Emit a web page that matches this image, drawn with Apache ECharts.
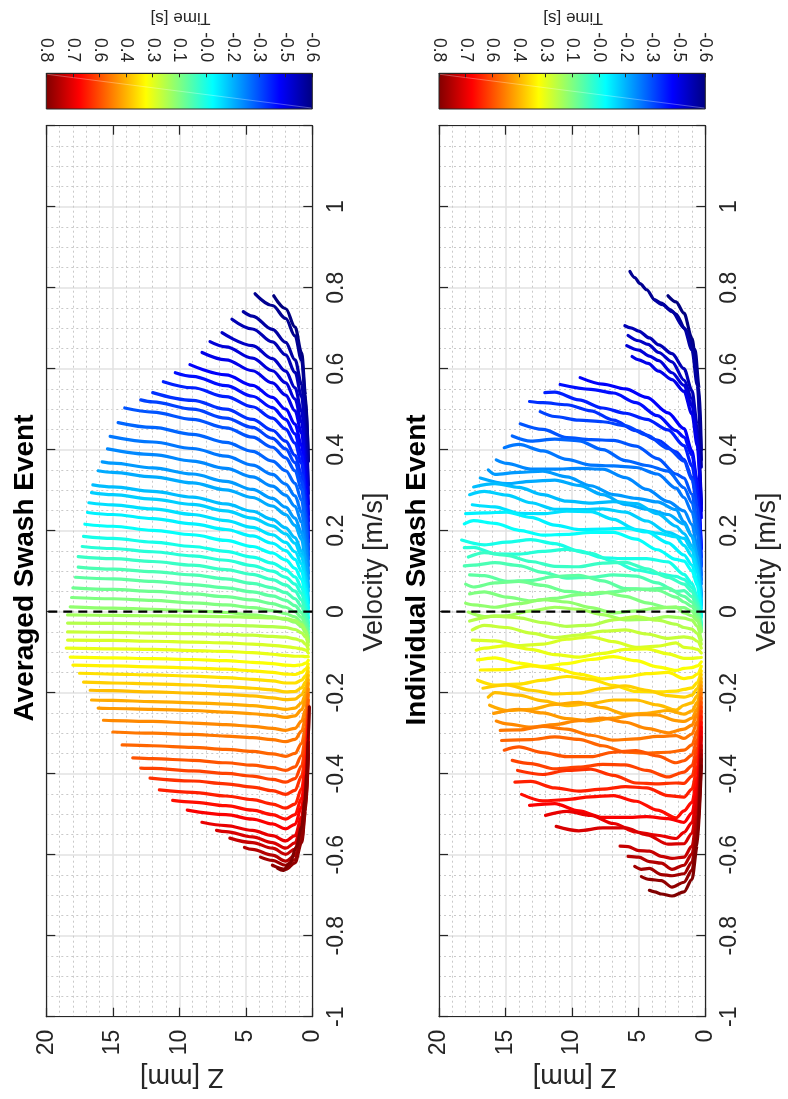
<!DOCTYPE html>
<html>
<head>
<meta charset="utf-8">
<script src="https://cdn.jsdelivr.net/npm/echarts@6/dist/echarts.min.js"></script>
<style>
  html, body { margin: 0; padding: 0; background: #ffffff; }
  #chart { width: 788px; height: 1099px; }
</style>
</head>
<body>
<div id="chart"></div>
<script>
// ---------------------------------------------------------------------------
// Velocity profiles u(z) during a swash event, coloured by time.
// Each profile is a list of [Z (mm), velocity (m/s)] points.
// ---------------------------------------------------------------------------

const TIME_MIN = -0.6;
const TIME_MAX = 0.8;

// colour-bar tick labels, left to right
const CB_LABELS = ['0.8', '0.7', '0.6', '0.4', '0.3', '0.1', '-0.0', '-0.2', '-0.3', '-0.5', '-0.6'];

// --- averaged event -------------------------------------------------------
const AVG_TIMES = [
  -0.600, -0.576, -0.552, -0.528, -0.503, -0.479, -0.455, -0.431, -0.407, -0.383,
  -0.359, -0.334, -0.310, -0.286, -0.262, -0.238, -0.214, -0.190, -0.166, -0.141,
  -0.117, -0.093, -0.069, -0.045, -0.021, 0.003, 0.028, 0.052, 0.076, 0.100,
  0.124, 0.148, 0.172, 0.197, 0.221, 0.245, 0.269, 0.293, 0.317, 0.341,
  0.366, 0.390, 0.414, 0.438, 0.462, 0.486, 0.510, 0.534, 0.559, 0.583,
  0.607, 0.631, 0.655, 0.679, 0.703, 0.728, 0.752, 0.776, 0.800
];

const AVG_PROFILES = [
  [[0.3,0.372],[0.5,0.534],[0.8,0.639],[1.3,0.703],[2,0.748],[2.9,0.780]],
  [[0.3,0.372],[0.5,0.523],[0.8,0.620],[1.3,0.681],[2,0.724],[3,0.756],[4.3,0.785]],
  [[0.3,0.313],[0.5,0.464],[0.8,0.561],[1.3,0.622],[2,0.665],[3,0.697],[4.5,0.730],[5.19,0.741]],
  [[0.3,0.292],[0.5,0.437],[0.8,0.531],[1.3,0.591],[2,0.634],[3,0.666],[4.5,0.698],[6.04,0.722]],
  [[0.3,0.266],[0.5,0.405],[0.8,0.495],[1.3,0.553],[2,0.594],[3,0.625],[4.5,0.657],[6.79,0.689]],
  [[0.3,0.240],[0.5,0.378],[0.8,0.468],[1.3,0.525],[2,0.565],[3,0.595],[4.5,0.626],[6.5,0.654],[7.69,0.667]],
  [[0.3,0.224],[0.5,0.355],[0.8,0.441],[1.3,0.496],[2,0.535],[3,0.565],[4.5,0.595],[6.5,0.622],[8.29,0.640]],
  [[0.3,0.204],[0.5,0.328],[0.8,0.410],[1.3,0.463],[2,0.500],[3,0.529],[4.5,0.559],[6.5,0.585],[9.2,0.610]],
  [[0.3,0.182],[0.5,0.306],[0.8,0.387],[1.3,0.439],[2,0.475],[3,0.504],[4.5,0.532],[6.5,0.558],[9,0.581],[10.3,0.590]],
  [[0.3,0.172],[0.5,0.289],[0.8,0.366],[1.3,0.416],[2,0.451],[3,0.478],[4.5,0.506],[6.5,0.531],[9,0.553],[11.2,0.568]],
  [[0.3,0.154],[0.5,0.265],[0.8,0.339],[1.3,0.386],[2,0.421],[3,0.448],[4.5,0.475],[6.5,0.500],[9,0.522],[12,0.541]],
  [[0.3,0.139],[0.5,0.249],[0.8,0.321],[1.3,0.368],[2,0.402],[3,0.428],[4.5,0.455],[6.5,0.478],[9,0.500],[12,0.518],[12.9,0.523]],
  [[0.3,0.130],[0.5,0.234],[0.8,0.302],[1.3,0.348],[2,0.380],[3,0.406],[4.5,0.431],[6.5,0.454],[9,0.475],[12,0.493],[14.1,0.503]],
  [[0.3,0.114],[0.5,0.211],[0.8,0.275],[1.3,0.317],[2,0.348],[3,0.372],[4.5,0.396],[6.5,0.418],[9,0.438],[12,0.455],[14.6,0.467]],
  [[0.3,0.095],[0.5,0.185],[0.8,0.245],[1.3,0.286],[2,0.315],[3,0.339],[4.5,0.362],[6.5,0.384],[9,0.403],[12,0.419],[15.2,0.433]],
  [[0.3,0.081],[0.5,0.165],[0.8,0.221],[1.3,0.260],[2,0.288],[3,0.310],[4.5,0.333],[6.5,0.354],[9,0.372],[12,0.388],[15.4,0.402]],
  [[0.3,0.061],[0.5,0.141],[0.8,0.195],[1.3,0.231],[2,0.258],[3,0.280],[4.5,0.302],[6.5,0.322],[9,0.340],[12,0.355],[15,0.367],[15.8,0.370]],
  [[0.3,0.051],[0.5,0.126],[0.8,0.178],[1.3,0.213],[2,0.240],[3,0.261],[4.5,0.282],[6.5,0.301],[9,0.318],[12,0.333],[15,0.344],[16.1,0.348]],
  [[0.3,0.028],[0.5,0.100],[0.8,0.149],[1.3,0.183],[2,0.207],[3,0.228],[4.5,0.248],[6.5,0.266],[9,0.283],[12,0.297],[15,0.308],[16.5,0.313]],
  [[0.3,0.021],[0.5,0.090],[0.8,0.136],[1.3,0.169],[2,0.192],[3,0.212],[4.5,0.231],[6.5,0.249],[9,0.265],[12,0.278],[15,0.289],[16.6,0.294]],
  [[0.3,0.009],[0.5,0.073],[0.8,0.118],[1.3,0.148],[2,0.171],[3,0.190],[4.5,0.208],[6.5,0.225],[9,0.240],[12,0.254],[15,0.264],[16.8,0.269]],
  [[0.3,-0.002],[0.5,0.058],[0.8,0.100],[1.3,0.129],[2,0.151],[3,0.169],[4.5,0.187],[6.5,0.203],[9,0.217],[12,0.230],[15,0.240],[16.9,0.245]],
  [[0.3,-0.015],[0.5,0.042],[0.8,0.080],[1.3,0.107],[2,0.128],[3,0.145],[4.5,0.161],[6.5,0.176],[9,0.190],[12,0.201],[15,0.211],[17.1,0.216]],
  [[0.3,-0.028],[0.5,0.025],[0.8,0.060],[1.3,0.086],[2,0.104],[3,0.120],[4.5,0.135],[6.5,0.149],[9,0.161],[12,0.172],[15,0.181],[17.2,0.186]],
  [[0.3,-0.036],[0.5,0.012],[0.8,0.045],[1.3,0.068],[2,0.085],[3,0.100],[4.5,0.114],[6.5,0.127],[9,0.138],[12,0.148],[15,0.156],[17.3,0.161]],
  [[0.3,-0.044],[0.5,-0.001],[0.8,0.029],[1.3,0.051],[2,0.066],[3,0.079],[4.5,0.092],[6.5,0.104],[9,0.115],[12,0.124],[15,0.131],[17.6,0.136]],
  [[0.3,-0.053],[0.5,-0.013],[0.8,0.013],[1.3,0.032],[2,0.047],[3,0.059],[4.5,0.070],[6.5,0.081],[9,0.091],[12,0.099],[15,0.105],[17.6,0.110]],
  [[0.3,-0.061],[0.5,-0.026],[0.8,-0.002],[1.3,0.015],[2,0.028],[3,0.039],[4.5,0.049],[6.5,0.059],[9,0.067],[12,0.075],[15,0.081],[17.8,0.085]],
  [[0.3,-0.066],[0.5,-0.036],[0.8,-0.014],[1.3,0.000],[2,0.011],[3,0.020],[4.5,0.029],[6.5,0.037],[9,0.044],[12,0.050],[15,0.055],[18,0.059]],
  [[0.3,-0.069],[0.5,-0.044],[0.8,-0.026],[1.3,-0.013],[2,-0.005],[3,0.003],[4.5,0.010],[6.5,0.017],[9,0.022],[12,0.028],[15,0.032],[18.1,0.035]],
  [[0.3,-0.075],[0.5,-0.052],[0.8,-0.037],[1.3,-0.026],[2,-0.019],[3,-0.013],[4.5,-0.008],[6.5,-0.002],[9,0.002],[12,0.006],[15,0.009],[18.2,0.012]],
  [[0.3,-0.074],[0.5,-0.047],[0.8,-0.032],[1.3,-0.022],[2,-0.017],[3,-0.015],[4.5,-0.014],[6.5,-0.012],[9,-0.011],[12,-0.010],[15,-0.009],[18.4,-0.008]],
  [[0.3,-0.083],[0.5,-0.063],[0.8,-0.052],[1.3,-0.044],[2,-0.039],[3,-0.037],[4.5,-0.035],[6.5,-0.033],[9,-0.032],[12,-0.030],[15,-0.029],[18.4,-0.028]],
  [[0.3,-0.093],[0.5,-0.080],[0.8,-0.072],[1.3,-0.067],[2,-0.063],[3,-0.061],[4.5,-0.058],[6.5,-0.056],[9,-0.054],[12,-0.053],[15,-0.051],[18.4,-0.050]],
  [[0.3,-0.102],[0.5,-0.095],[0.8,-0.092],[1.3,-0.089],[2,-0.086],[3,-0.083],[4.5,-0.080],[6.5,-0.077],[9,-0.075],[12,-0.073],[15,-0.071],[18.4,-0.070]],
  [[0.3,-0.111],[0.5,-0.111],[0.8,-0.110],[1.3,-0.110],[2,-0.108],[3,-0.105],[4.5,-0.101],[6.5,-0.098],[9,-0.096],[12,-0.093],[15,-0.092],[18.5,-0.090]],
  [[0.3,-0.120],[0.5,-0.127],[0.8,-0.131],[1.3,-0.133],[2,-0.132],[3,-0.128],[4.5,-0.125],[6.5,-0.121],[9,-0.118],[12,-0.116],[15,-0.114],[18.2,-0.112]],
  [[0.3,-0.129],[0.5,-0.142],[0.8,-0.150],[1.3,-0.155],[2,-0.154],[3,-0.150],[4.5,-0.146],[6.5,-0.142],[9,-0.139],[12,-0.136],[15,-0.134],[18.0,-0.132]],
  [[0.3,-0.138],[0.5,-0.158],[0.8,-0.169],[1.3,-0.176],[2,-0.176],[3,-0.171],[4.5,-0.167],[6.5,-0.163],[9,-0.159],[12,-0.156],[15,-0.154],[17.5,-0.152]],
  [[0.3,-0.148],[0.5,-0.173],[0.8,-0.188],[1.3,-0.197],[2,-0.198],[3,-0.193],[4.5,-0.189],[6.5,-0.185],[9,-0.181],[12,-0.178],[15,-0.176],[17.2,-0.174]],
  [[0.3,-0.157],[0.5,-0.188],[0.8,-0.205],[1.3,-0.216],[2,-0.217],[3,-0.213],[4.5,-0.208],[6.5,-0.204],[9,-0.201],[12,-0.198],[15,-0.195],[16.7,-0.194]],
  [[0.3,-0.168],[0.5,-0.204],[0.8,-0.225],[1.3,-0.238],[2,-0.241],[3,-0.237],[4.5,-0.232],[6.5,-0.228],[9,-0.225],[12,-0.222],[15,-0.219],[16.6,-0.218]],
  [[0.3,-0.177],[0.5,-0.219],[0.8,-0.242],[1.3,-0.257],[2,-0.261],[3,-0.256],[4.5,-0.252],[6.5,-0.248],[9,-0.244],[12,-0.241],[15,-0.239],[16.1,-0.238]],
  [[0.3,-0.191],[0.5,-0.241],[0.8,-0.270],[1.3,-0.288],[2,-0.293],[3,-0.288],[4.5,-0.283],[6.5,-0.279],[9,-0.275],[12,-0.271],[15,-0.269],[15.7,-0.268]],
  [[0.3,-0.204],[0.5,-0.262],[0.8,-0.295],[1.3,-0.315],[2,-0.321],[3,-0.316],[4.5,-0.311],[6.5,-0.307],[9,-0.303],[12,-0.300],[15.0,-0.297]],
  [[0.3,-0.218],[0.5,-0.287],[0.8,-0.325],[1.3,-0.350],[2,-0.357],[3,-0.351],[4.5,-0.345],[6.5,-0.340],[9,-0.335],[12,-0.331],[14.3,-0.329]],
  [[0.3,-0.232],[0.5,-0.311],[0.8,-0.355],[1.3,-0.383],[2,-0.392],[3,-0.385],[4.5,-0.379],[6.5,-0.373],[9,-0.367],[12,-0.363],[13.5,-0.361]],
  [[0.3,-0.244],[0.5,-0.332],[0.8,-0.381],[1.3,-0.412],[2,-0.421],[3,-0.414],[4.5,-0.406],[6.5,-0.399],[9,-0.393],[12,-0.387],[12.9,-0.386]],
  [[0.3,-0.255],[0.5,-0.352],[0.8,-0.406],[1.3,-0.441],[2,-0.451],[3,-0.442],[4.5,-0.433],[6.5,-0.425],[9,-0.418],[12.2,-0.411]],
  [[0.3,-0.268],[0.5,-0.376],[0.8,-0.437],[1.3,-0.475],[2,-0.485],[3,-0.475],[4.5,-0.464],[6.5,-0.455],[9,-0.446],[11.5,-0.440]],
  [[0.3,-0.280],[0.5,-0.395],[0.8,-0.460],[1.3,-0.501],[2,-0.512],[3,-0.501],[4.5,-0.490],[6.5,-0.479],[9,-0.470],[10.5,-0.466]],
  [[0.3,-0.291],[0.5,-0.413],[0.8,-0.482],[1.3,-0.525],[2,-0.536],[3,-0.524],[4.5,-0.512],[6.5,-0.501],[9.4,-0.490]],
  [[0.3,-0.304],[0.5,-0.434],[0.8,-0.507],[1.3,-0.553],[2,-0.566],[3,-0.553],[4.5,-0.540],[6.5,-0.528],[8.3,-0.520]],
  [[0.3,-0.313],[0.5,-0.447],[0.8,-0.523],[1.3,-0.571],[2,-0.584],[3,-0.570],[4.5,-0.556],[6.5,-0.543],[7.2,-0.540]],
  [[0.3,-0.322],[0.5,-0.460],[0.8,-0.537],[1.3,-0.586],[2,-0.599],[3,-0.584],[4.5,-0.570],[6.2,-0.559]],
  [[0.3,-0.332],[0.5,-0.473],[0.8,-0.552],[1.3,-0.602],[2,-0.616],[3,-0.601],[4.5,-0.587],[5.1,-0.582]],
  [[0.3,-0.343],[0.5,-0.483],[0.8,-0.562],[1.3,-0.612],[2,-0.626],[3,-0.614],[3.9,-0.606]],
  [[0.3,-0.352],[0.5,-0.492],[0.8,-0.570],[1.3,-0.620],[2,-0.636],[3.0,-0.626]],
  [[0.22,-0.235],[0.3,-0.317],[0.42,-0.400],[0.55,-0.466],[0.8,-0.532],[1.2,-0.581],[1.7,-0.622],[2.2,-0.639],[2.6,-0.634]]
];

// --- individual event -----------------------------------------------------
const IND_TIMES = [
  -0.600, -0.576, -0.552, -0.528, -0.503, -0.479, -0.455, -0.431, -0.407, -0.383,
  -0.359, -0.334, -0.310, -0.286, -0.262, -0.238, -0.214, -0.190, -0.166, -0.141,
  -0.117, -0.093, -0.069, -0.045, -0.021, 0.003, 0.028, 0.052, 0.076, 0.100,
  0.124, 0.148, 0.172, 0.197, 0.221, 0.245, 0.269, 0.293, 0.317, 0.341,
  0.366, 0.390, 0.414, 0.438, 0.462, 0.486, 0.510, 0.534, 0.559, 0.583,
  0.607, 0.631, 0.655, 0.679, 0.703, 0.728, 0.752, 0.776, 0.800
];

const IND_PROFILES = [
  [[0.3,0.375],[0.6,0.584],[1.0,0.675],[1.6,0.737],[2.2,0.765],[2.8,0.780]],
  [[0.3,0.400],[0.45,0.550],[0.77,0.647],[1.5,0.697],[2.2,0.735],[2.65,0.746],[3.3,0.762],[3.8,0.770],[4.4,0.795],[4.9,0.810],[5.3,0.825],[5.66,0.840]],
  [[0.3,0.357],[0.6,0.559],[1.0,0.646],[1.6,0.701],[2.5,0.741],[3.2,0.758],[3.8,0.770]],
  [[0.3,0.266],[0.6,0.461],[1.0,0.546],[1.6,0.600],[2.5,0.637],[3.5,0.659],[4.2,0.676],[5,0.693],[5.6,0.701],[6.04,0.706]],
  [[0.3,0.255],[0.6,0.443],[1.0,0.526],[1.6,0.572],[2.5,0.617],[3.5,0.640],[4.3,0.660],[5,0.669],[5.8,0.682]],
  [[0.3,0.249],[0.6,0.430],[1.0,0.509],[1.6,0.559],[2.5,0.590],[3.5,0.620],[4.2,0.631],[5,0.646],[5.9,0.657]],
  [[0.3,0.232],[0.6,0.410],[1.0,0.488],[1.6,0.544],[2.5,0.573],[3.5,0.594],[4.3,0.613],[5,0.622],[5.5,0.630]],
  [[0.3,0.155],[0.6,0.322],[1.0,0.397],[1.6,0.452],[2.8,0.491],[4.4,0.529],[6.0,0.550],[7.7,0.562],[9.4,0.578]],
  [[0.3,0.157],[0.6,0.316],[1.0,0.386],[1.6,0.431],[2.2,0.447],[3.6,0.484],[5.2,0.516],[6.9,0.540],[8.6,0.549],[10.9,0.561]],
  [[0.3,0.135],[0.6,0.290],[1.0,0.360],[1.6,0.410],[2.8,0.449],[4.4,0.475],[6.0,0.490],[7.7,0.503],[9.5,0.523],[11.3,0.542],[12.05,0.541]],
  [[0.3,0.112],[0.6,0.264],[1.0,0.332],[1.6,0.376],[2.2,0.395],[3.6,0.424],[5.2,0.447],[6.9,0.473],[8.6,0.496],[10.4,0.511],[12.2,0.516],[13.2,0.519]],
  [[0.3,0.118],[0.6,0.262],[1.0,0.326],[1.6,0.372],[2.8,0.403],[4.4,0.436],[6.0,0.459],[7.7,0.469],[9.5,0.473],[11.3,0.482],[12.4,0.494]],
  [[0.3,0.091],[0.6,0.228],[1.0,0.290],[1.6,0.330],[2.2,0.340],[3.6,0.378],[5.2,0.409],[6.9,0.423],[8.6,0.425],[10.4,0.430],[12.2,0.450],[13.9,0.464]],
  [[0.3,0.079],[0.6,0.210],[1.0,0.269],[1.6,0.306],[2.8,0.347],[4.4,0.361],[6.0,0.373],[7.7,0.400],[9.5,0.422],[11.3,0.426],[13.1,0.421],[14.5,0.434]],
  [[0.3,0.069],[0.6,0.192],[1.0,0.246],[1.6,0.282],[2.2,0.305],[3.6,0.340],[5.2,0.356],[6.9,0.360],[8.6,0.362],[10.4,0.376],[12.2,0.397],[14.0,0.413],[15.1,0.405]],
  [[0.3,0.042],[0.6,0.160],[1.0,0.215],[1.6,0.249],[2.8,0.272],[4.4,0.302],[6.0,0.331],[7.7,0.352],[9.5,0.354],[11.3,0.352],[13.1,0.352],[14.9,0.366],[15.7,0.375]],
  [[0.3,0.020],[0.6,0.135],[1.0,0.187],[1.6,0.222],[2.2,0.252],[3.6,0.271],[5.2,0.280],[6.9,0.289],[8.6,0.311],[10.4,0.333],[12.2,0.347],[14.0,0.344],[15.8,0.339],[16.3,0.350]],
  [[0.3,0.037],[0.6,0.140],[1.0,0.186],[1.6,0.217],[2.8,0.240],[4.4,0.253],[6.0,0.265],[7.7,0.289],[9.5,0.312],[11.3,0.325],[13.1,0.322],[14.9,0.316],[16.9,0.330]],
  [[0.3,0.018],[0.6,0.117],[1.0,0.163],[1.6,0.193],[2.2,0.211],[3.6,0.242],[5.2,0.267],[6.9,0.272],[8.6,0.268],[10.4,0.273],[12.2,0.289],[14.0,0.307],[15.8,0.316],[17.4,0.308]],
  [[0.3,0.015],[0.6,0.110],[1.0,0.153],[1.6,0.181],[2.8,0.196],[4.4,0.224],[6.0,0.246],[7.7,0.254],[9.5,0.252],[11.3,0.253],[13.1,0.269],[14.9,0.288],[16.6,0.297],[17.7,0.289]],
  [[0.3,0.008],[0.6,0.096],[1.0,0.137],[1.6,0.164],[2.2,0.185],[3.6,0.194],[5.2,0.203],[6.9,0.228],[8.6,0.247],[10.4,0.248],[12.2,0.242],[14.0,0.243],[15.8,0.259],[17.5,0.264]],
  [[0.3,-0.010],[0.6,0.075],[1.0,0.115],[1.6,0.140],[2.8,0.170],[4.4,0.197],[6.0,0.206],[7.7,0.204],[9.5,0.203],[11.3,0.214],[13.1,0.233],[14.9,0.246],[16.6,0.244],[18.0,0.242]],
  [[0.3,-0.014],[0.6,0.065],[1.0,0.101],[1.6,0.125],[2.2,0.129],[3.6,0.153],[5.2,0.179],[6.9,0.196],[8.6,0.196],[10.4,0.191],[12.2,0.189],[14.0,0.201],[15.8,0.218],[17.4,0.225],[18.1,0.217]],
  [[0.3,-0.032],[0.6,0.037],[1.0,0.070],[1.6,0.092],[2.8,0.123],[4.4,0.131],[6.0,0.131],[7.7,0.133],[9.5,0.150],[11.3,0.168],[13.1,0.178],[14.9,0.172],[16.6,0.165],[18.3,0.177]],
  [[0.3,-0.033],[0.6,0.031],[1.0,0.060],[1.6,0.080],[2.2,0.087],[3.6,0.094],[5.2,0.103],[6.9,0.124],[8.6,0.144],[10.4,0.154],[12.2,0.149],[14.0,0.142],[15.8,0.143],[17.4,0.159],[18.1,0.158]],
  [[0.3,-0.034],[0.6,0.023],[1.0,0.050],[1.6,0.068],[2.8,0.085],[4.4,0.106],[6.0,0.122],[7.7,0.120],[9.5,0.111],[11.3,0.112],[13.1,0.124],[14.9,0.139],[16.6,0.146],[17.8,0.135]],
  [[0.3,-0.040],[0.6,0.013],[1.0,0.037],[1.6,0.052],[2.2,0.050],[3.6,0.071],[5.2,0.088],[6.9,0.091],[8.6,0.085],[10.4,0.083],[12.2,0.097],[14.0,0.114],[15.8,0.121],[17.4,0.115],[18.1,0.113]],
  [[0.3,-0.044],[0.6,0.003],[1.0,0.024],[1.6,0.038],[2.8,0.058],[4.4,0.056],[6.0,0.057],[7.7,0.076],[9.5,0.090],[11.3,0.087],[13.1,0.077],[14.9,0.075],[16.6,0.089],[17.7,0.091]],
  [[0.3,-0.046],[0.6,-0.005],[1.0,0.013],[1.6,0.024],[2.2,0.036],[3.6,0.053],[5.2,0.056],[6.9,0.049],[8.6,0.043],[10.4,0.050],[12.2,0.065],[14.0,0.075],[15.8,0.071],[17.4,0.061],[18.0,0.068]],
  [[0.3,-0.048],[0.6,-0.014],[1.0,0.001],[1.6,0.010],[2.8,0.010],[4.4,0.022],[6.0,0.038],[7.7,0.048],[9.5,0.042],[11.3,0.033],[13.1,0.027],[14.9,0.036],[16.6,0.049],[17.7,0.044]],
  [[0.3,-0.050],[0.6,-0.022],[1.0,-0.010],[1.6,-0.003],[2.2,0.012],[3.6,0.009],[5.2,0.002],[6.9,-0.003],[8.6,0.010],[10.4,0.024],[12.2,0.030],[14.0,0.020],[15.8,0.011],[17.4,0.017],[18.0,0.021]],
  [[0.3,-0.070],[0.6,-0.036],[1.0,-0.021],[1.6,-0.016],[2.8,-0.012],[4.4,-0.019],[6.0,-0.020],[7.7,-0.007],[9.5,0.006],[11.3,0.011],[13.1,0.002],[14.9,-0.010],[16.6,-0.012],[17.8,-0.001]],
  [[0.3,-0.080],[0.6,-0.054],[1.0,-0.043],[1.6,-0.039],[2.2,-0.031],[3.6,-0.021],[5.2,-0.012],[6.9,-0.020],[8.6,-0.033],[10.4,-0.036],[12.2,-0.027],[14.0,-0.015],[15.8,-0.011],[17.7,-0.023]],
  [[0.3,-0.090],[0.6,-0.073],[1.0,-0.065],[1.6,-0.062],[2.8,-0.066],[4.4,-0.055],[6.0,-0.045],[7.7,-0.048],[9.5,-0.058],[11.3,-0.064],[13.1,-0.053],[14.9,-0.039],[16.6,-0.034],[17.5,-0.045]],
  [[0.3,-0.102],[0.6,-0.093],[1.0,-0.090],[1.6,-0.088],[2.2,-0.077],[3.6,-0.085],[5.2,-0.088],[6.9,-0.074],[8.6,-0.062],[10.4,-0.068],[12.2,-0.080],[14.0,-0.084],[15.8,-0.072],[17.5,-0.070]],
  [[0.3,-0.113],[0.6,-0.114],[1.0,-0.115],[1.6,-0.115],[2.8,-0.104],[4.4,-0.092],[6.0,-0.093],[7.7,-0.103],[9.5,-0.112],[11.3,-0.106],[13.1,-0.093],[14.9,-0.084],[16.6,-0.090],[17.2,-0.095]],
  [[0.3,-0.124],[0.6,-0.134],[1.0,-0.138],[1.6,-0.140],[2.2,-0.145],[3.6,-0.136],[5.2,-0.121],[6.9,-0.111],[8.6,-0.118],[10.4,-0.128],[12.2,-0.135],[14.0,-0.127],[15.8,-0.114],[17.1,-0.119]],
  [[0.3,-0.135],[0.6,-0.154],[1.0,-0.162],[1.6,-0.165],[2.8,-0.150],[4.4,-0.153],[6.0,-0.161],[7.7,-0.166],[9.5,-0.154],[11.3,-0.140],[13.1,-0.134],[14.9,-0.143],[16.9,-0.144]],
  [[0.3,-0.146],[0.6,-0.175],[1.0,-0.188],[1.6,-0.192],[2.2,-0.196],[3.6,-0.198],[5.2,-0.197],[6.9,-0.182],[8.6,-0.167],[10.4,-0.160],[12.2,-0.169],[14.0,-0.179],[15.8,-0.181],[17.1,-0.169]],
  [[0.3,-0.155],[0.6,-0.190],[1.0,-0.206],[1.6,-0.211],[2.8,-0.207],[4.4,-0.194],[6.0,-0.183],[7.7,-0.190],[9.5,-0.201],[11.3,-0.203],[13.1,-0.194],[14.9,-0.181],[16.7,-0.189]],
  [[0.3,-0.165],[0.6,-0.207],[1.0,-0.225],[1.6,-0.231],[2.2,-0.243],[3.6,-0.230],[5.2,-0.218],[6.9,-0.218],[8.6,-0.227],[10.4,-0.232],[12.2,-0.220],[14.0,-0.206],[15.8,-0.200],[16.3,-0.211]],
  [[0.3,-0.174],[0.6,-0.224],[1.0,-0.245],[1.6,-0.253],[2.8,-0.244],[4.4,-0.251],[6.0,-0.253],[7.7,-0.237],[9.5,-0.224],[11.3,-0.229],[13.1,-0.241],[14.9,-0.244],[16.2,-0.231]],
  [[0.3,-0.183],[0.6,-0.239],[1.0,-0.263],[1.6,-0.271],[2.2,-0.269],[3.6,-0.255],[5.2,-0.254],[6.9,-0.263],[8.6,-0.270],[10.4,-0.264],[12.2,-0.250],[14.0,-0.241],[15.9,-0.251]],
  [[0.3,-0.192],[0.6,-0.253],[1.0,-0.280],[1.6,-0.290],[2.8,-0.299],[4.4,-0.288],[6.0,-0.273],[7.7,-0.263],[9.5,-0.269],[11.3,-0.279],[13.1,-0.285],[14.9,-0.277],[15.7,-0.270]],
  [[0.3,-0.202],[0.6,-0.272],[1.0,-0.302],[1.6,-0.313],[2.2,-0.306],[3.6,-0.308],[5.2,-0.314],[6.9,-0.317],[8.6,-0.305],[10.4,-0.290],[12.2,-0.283],[14.0,-0.292],[15.4,-0.293]],
  [[0.3,-0.213],[0.6,-0.294],[1.0,-0.329],[1.6,-0.342],[2.8,-0.347],[4.4,-0.349],[6.0,-0.347],[7.7,-0.331],[9.5,-0.315],[11.3,-0.309],[13.1,-0.316],[15.3,-0.318]],
  [[0.3,-0.224],[0.6,-0.315],[1.0,-0.354],[1.6,-0.368],[2.2,-0.373],[3.6,-0.356],[5.2,-0.343],[6.9,-0.347],[8.6,-0.358],[10.4,-0.358],[12.2,-0.348],[14.0,-0.334],[15.1,-0.342]],
  [[0.3,-0.235],[0.6,-0.337],[1.0,-0.380],[1.6,-0.396],[2.8,-0.408],[4.4,-0.392],[6.0,-0.378],[7.7,-0.377],[9.5,-0.384],[11.3,-0.388],[13.1,-0.375],[14.5,-0.367]],
  [[0.3,-0.246],[0.6,-0.358],[1.0,-0.406],[1.6,-0.424],[2.2,-0.423],[3.6,-0.425],[5.2,-0.423],[6.9,-0.404],[8.6,-0.389],[10.4,-0.392],[12.2,-0.402],[14.1,-0.392]],
  [[0.3,-0.259],[0.6,-0.384],[1.0,-0.438],[1.6,-0.458],[2.8,-0.454],[4.4,-0.435],[6.0,-0.432],[7.7,-0.438],[9.5,-0.443],[11.3,-0.435],[13.1,-0.419],[14.3,-0.421]],
  [[0.3,-0.273],[0.6,-0.411],[1.0,-0.471],[1.6,-0.492],[2.2,-0.509],[3.6,-0.490],[5.2,-0.468],[6.9,-0.454],[8.6,-0.457],[10.4,-0.464],[12.2,-0.467],[13.8,-0.451]],
  [[0.3,-0.285],[0.6,-0.433],[1.0,-0.497],[1.6,-0.520],[2.8,-0.511],[4.4,-0.506],[6.0,-0.508],[7.7,-0.508],[9.5,-0.492],[11.3,-0.474],[13.2,-0.478]],
  [[0.3,-0.296],[0.6,-0.453],[1.0,-0.521],[1.6,-0.545],[2.2,-0.560],[3.6,-0.552],[5.2,-0.544],[6.9,-0.523],[8.6,-0.503],[10.4,-0.493],[12.0,-0.503]],
  [[0.3,-0.309],[0.6,-0.475],[1.0,-0.547],[1.6,-0.573],[2.8,-0.574],[4.4,-0.551],[6.0,-0.534],[7.7,-0.534],[9.5,-0.541],[11.2,-0.530]],
  [[0.3,-0.330],[0.6,-0.504],[1.0,-0.579],[1.6,-0.606],[2.5,-0.609],[3.3,-0.604],[4.2,-0.591],[5.0,-0.590],[5.8,-0.580],[6.4,-0.579]],
  [[0.3,-0.342],[0.6,-0.521],[1.0,-0.598],[1.6,-0.626],[2.5,-0.636],[3.3,-0.621],[4.2,-0.617],[5.0,-0.606],[5.8,-0.604]],
  [[0.3,-0.353],[0.6,-0.539],[1.0,-0.618],[1.6,-0.647],[2.5,-0.652],[3.3,-0.649],[4.2,-0.634],[4.8,-0.636],[5.3,-0.629]],
  [[0.3,-0.364],[0.6,-0.557],[1.0,-0.638],[1.6,-0.668],[2.5,-0.680],[3.3,-0.664],[4.2,-0.661],[4.8,-0.654]],
  [[0.3,-0.380],[0.6,-0.577],[1.0,-0.661],[1.6,-0.692],[2.5,-0.702],[3.3,-0.697],[3.8,-0.692],[4.2,-0.688]]
];

// ---------------------------------------------------------------------------
const FONT = '"Liberation Sans", Arial, Helvetica, sans-serif';
const INK = '#262626';

// MATLAB-style jet colour map, p in [0, 1]
function jet(p) {
  const c = v => Math.max(0, Math.min(1, v));
  const r = c(1.5 - Math.abs(4 * p - 3));
  const g = c(1.5 - Math.abs(4 * p - 2));
  const b = c(1.5 - Math.abs(4 * p - 1));
  return 'rgb(' + Math.round(r * 255) + ',' + Math.round(g * 255) + ',' + Math.round(b * 255) + ')';
}
const timeColor = t => jet((t - TIME_MIN) / (TIME_MAX - TIME_MIN));

// plot frames (pixels)
const PANELS = [
  { left: 46.3, top: 125.7, width: 266, height: 891 },
  { left: 439.0, top: 125.7, width: 266.3, height: 891 }
];
const CB_TOP = 73.3, CB_HEIGHT = 35.7;

function zAxis(gridIndex, position, main) {
  return {
    type: 'value', gridIndex, position, min: 0, max: 20, interval: 5, inverse: true,
    axisLine: { show: true, onZero: false, lineStyle: { color: INK, width: 1.2 } },
    axisTick: { show: true, inside: true, length: 9, lineStyle: { color: INK, width: 1.2 } },
    axisLabel: { show: main, rotate: 90, margin: 13, fontSize: 23, fontFamily: FONT, color: INK },
    splitLine: { show: main, lineStyle: { color: '#e2e2e2', width: 1.5 } },
    minorTick: { show: false, splitNumber: 5 },
    minorSplitLine: { show: main, lineStyle: { color: '#c9c9c9', width: 1, type: [2, 3] } }
  };
}
function vAxis(gridIndex, position, main) {
  return {
    type: 'value', gridIndex, position, min: -1, max: 1.2, interval: 0.2,
    axisLine: { show: true, onZero: false, lineStyle: { color: INK, width: 1.2 } },
    axisTick: { show: true, inside: true, length: 9, lineStyle: { color: INK, width: 1.2 } },
    axisLabel: {
      show: main, rotate: 90, margin: 13, fontSize: 23, fontFamily: FONT, color: INK,
      formatter: v => (v > 1.1 ? '' : String(Math.round(v * 10) / 10))
    },
    splitLine: { show: main, lineStyle: { color: '#e2e2e2', width: 1.5 } },
    minorTick: { show: false, splitNumber: 4 },
    minorSplitLine: { show: main, lineStyle: { color: '#c9c9c9', width: 1, type: [2, 3] } }
  };
}
function cbAxis(gridIndex) {
  return {
    type: 'value', gridIndex, position: 'top', min: 0, max: 10, interval: 1, z: 5,
    axisLine: { show: true, onZero: false, lineStyle: { color: INK, width: 1 } },
    axisTick: { show: true, inside: true, length: 4, lineStyle: { color: INK, width: 1 } },
    axisLabel: {
      rotate: 90, margin: 11, fontSize: 17.5, fontFamily: FONT, color: INK,
      formatter: v => CB_LABELS[Math.round(v)]
    },
    splitLine: { show: false }
  };
}

const grids = PANELS.map(p => ({ left: p.left, top: p.top, width: p.width, height: p.height, outerBoundsMode: 'none' }))
  .concat(PANELS.map(p => ({ left: p.left, top: CB_TOP, width: p.width, height: CB_HEIGHT, outerBoundsMode: 'none' })));

const xAxes = [zAxis(0, 'bottom', true), zAxis(0, 'top', false), zAxis(1, 'bottom', true), zAxis(1, 'top', false), cbAxis(2), cbAxis(3)];
const yAxes = [vAxis(0, 'right', true), vAxis(0, 'left', false), vAxis(1, 'right', true), vAxis(1, 'left', false),
  { type: 'value', gridIndex: 2, min: 0, max: 1, show: false },
  { type: 'value', gridIndex: 3, min: 0, max: 1, show: false }];

// colour-bar gradient: 0.8 s (left) to -0.6 s (right)
const cbStops = [];
for (let i = 0; i <= 24; i++) cbStops.push({ offset: i / 24, color: jet(1 - i / 24) });

function colourBar(axisIndex) {
  return {
    type: 'custom', xAxisIndex: axisIndex, yAxisIndex: axisIndex, silent: true, z: 1,
    data: [[0, 0]],
    renderItem: (params, api) => {
      const a = api.coord([0, 1]);
      const b = api.coord([10, 0]);
      return {
        type: 'group',
        children: [
          { type: 'rect', shape: { x: a[0], y: a[1], width: b[0] - a[0], height: b[1] - a[1] },
            style: { fill: new echarts.graphic.LinearGradient(0, 0, 1, 0, cbStops), stroke: INK, lineWidth: 1 } },
          { type: 'line', shape: { x1: a[0] + 1, y1: a[1] + 1, x2: b[0] - 1, y2: b[1] - 1 },
            style: { stroke: 'rgba(255,255,255,0.3)', lineWidth: 1 } }
        ]
      };
    }
  };
}

function profileSeries(profiles, times, axisIndex, smooth) {
  return profiles.map((pts, i) => ({
    type: 'line', xAxisIndex: axisIndex, yAxisIndex: axisIndex,
    data: pts, showSymbol: false, symbol: 'none', smooth, smoothMonotone: 'x',
    silent: true, z: 2, clip: true,
    lineStyle: { color: timeColor(times[i]), width: 3.2, cap: 'round', join: 'round' },
    emphasis: { disabled: true }
  }));
}

function zeroLine(axisIndex) {
  return {
    type: 'line', xAxisIndex: axisIndex, yAxisIndex: axisIndex, data: [[0, 0], [20, 0]],
    showSymbol: false, symbol: 'none', silent: true, z: 4,
    lineStyle: { color: '#000000', width: 2.2, type: [9, 6] }
  };
}

const series = []
  .concat(profileSeries(AVG_PROFILES, AVG_TIMES, 0, 0.35))
  .concat(profileSeries(IND_PROFILES, IND_TIMES, 2, 0.3))
  .concat([zeroLine(0), zeroLine(2), colourBar(4), colourBar(5)]);

function label(text, x, y, rotation, size, weight) {
  return {
    type: 'text', x, y, rotation, silent: true, z: 10,
    style: { text, fontSize: size, fontWeight: weight || 'normal', fontFamily: FONT, fill: weight ? '#000' : INK,
      align: 'center', verticalAlign: 'middle' }
  };
}
const shift = PANELS[1].left - PANELS[0].left;
const graphics = [
  label('Averaged Swash Event', 25, 568, Math.PI / 2, 28, 'bold'),
  label('Individual Swash Event', 25 + shift, 570, Math.PI / 2, 28, 'bold'),
  label('Velocity [m/s]', 375, 572, Math.PI / 2, 27),
  label('Velocity [m/s]', 375 + shift, 572, Math.PI / 2, 27),
  label('Z [mm]', 182, 1076, Math.PI, 27),
  label('Z [mm]', 182 + shift, 1076, Math.PI, 27),
  label('Time [s]', 180.5, 17.5, Math.PI, 17),
  label('Time [s]', 180.5 + shift, 17.5, Math.PI, 17)
];

const chart = echarts.init(document.getElementById('chart'), null, { renderer: 'canvas' });
chart.setOption({
  animation: false,
  backgroundColor: '#ffffff',
  grid: grids,
  xAxis: xAxes,
  yAxis: yAxes,
  series,
  graphic: graphics
});
</script>
</body>
</html>
